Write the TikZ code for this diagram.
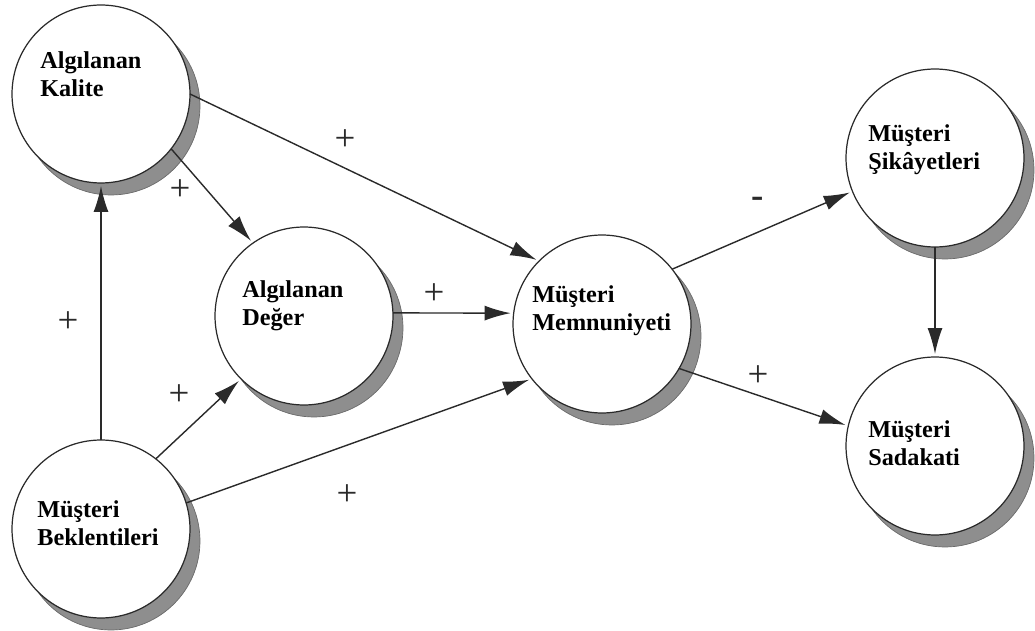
\documentclass[tikz,border=0pt]{standalone}
\usepackage{fontspec}
\setmainfont{Liberation Serif}
\usetikzlibrary{arrows.meta,shadows}
\definecolor{ink}{HTML}{2A2A2A}
\definecolor{shade}{HTML}{8E8E8E}
\definecolor{shadeedge}{HTML}{6A6A6A}
\begin{document}
\begin{tikzpicture}[x=0.02cm,y=-0.02cm,
  concept/.style={circle, draw=ink, line width=0.7pt, fill=white,
    minimum size=3.56cm, inner sep=0pt, outer sep=0pt,
    general shadow={fill=shade, draw=shadeedge, line width=0.4pt,
      shadow xshift=0.2cm, shadow yshift=-0.24cm}},
  caption/.style={anchor=west, align=left, inner sep=0pt,
    font=\fontsize{13.8}{15.9}\selectfont\bfseries, text=black},
  link/.style={draw=ink, line width=0.8pt,
    -{Latex[length=0.52cm,width=0.3cm]}, shorten >=0.06cm},
  sign/.style={font=\fontsize{21}{22}\selectfont, text=ink, inner sep=0pt}
]
\useasboundingbox (0,0) rectangle (1035,631);

% concepts
\node[concept] (kal) at (101,94) {};
\node[concept] (deg) at (304,316) {};
\node[concept] (bek) at (101,529) {};
\node[concept] (mem) at (602,324) {};
\node[concept] (sik) at (935,158) {};
\node[concept] (sad) at (935,446) {};

% concept names
\node[caption] (kalT) at (40,74)  {Algılanan\\Kalite};
\node[caption] (degT) at (242,306) {Algılanan\\Değer};
\node[caption] (bekT) at (37,523) {Müşteri\\Beklentileri};
\node[caption] (memT) at (532,311) {Müşteri\\Memnuniyeti};
\node[caption] (sikT) at (868,150) {Müşteri\\Şikâyetleri};
\node[caption] (sadT) at (868,443) {Müşteri\\Sadakati};

% relations
\draw[link] (bek.90)  -- (kal.270);
\draw[link] (kal.-38) -- (deg.125);
\draw[link] (kal.0)   -- (mem.135);
\draw[link] (deg.2)   -- (mem.173);
\draw[link] (bek.52)  -- (deg.225);
\draw[link] (bek.17)  -- (mem.218);
\draw[link] (mem.38)  -- (sik.202);
\draw[link] (mem.-30) -- (sad.167);
\draw[link] (sik.270) -- (sad.90);

% signs of the relations
\node[sign] (s1) at (345,140) {+};
\node[sign] (s2) at (180,190) {+};
\node[sign] (s3) at (68,322)  {+};
\node[sign] (s4) at (434,294) {+};
\node[sign] (s5) at (179,395) {+};
\node[sign] (s6) at (347,495) {+};
\node[sign] (s7) at (758,202) {\textbf{-}};
\node[sign] (s8) at (758,376) {+};
\end{tikzpicture}
\end{document}
